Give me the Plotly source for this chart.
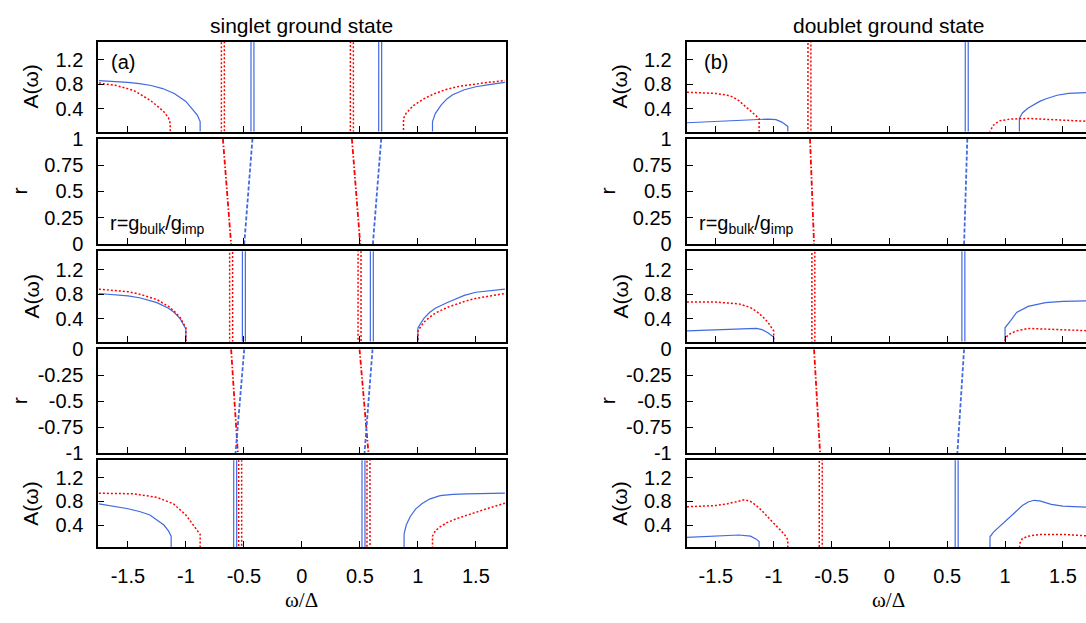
import plotly.graph_objects as go

BLUE = "#4169e1"
RED = "#ff0000"

# ---------------- tick data ----------------
omega_ticks = [-1.5, -1.0, -0.5, 0.0, 0.5, 1.0, 1.5]
omega_tick_text = ["-1.5", "-1", "-0.5", "0", "0.5", "1", "1.5"]
A_ticks = [0.4, 0.8, 1.2]
A_tick_text = ["0.4", "0.8", "1.2"]
r_pos_ticks = [0, 0.25, 0.5, 0.75, 1]
r_pos_text = ["0", "0.25", "0.5", "0.75", "1"]
r_neg_ticks = [-1, -0.75, -0.5, -0.25, 0]
r_neg_text = ["-1", "-0.75", "-0.5", "-0.25", "0"]

peak_height = 5.0      # delta-like bound-state peaks (cut by the axis)
peak_halfwidth = 0.013

# ================= singlet ground state (left column) =================
# r = 1 spectral function
s1_blue_left_w = [-1.75, -1.6, -1.5, -1.4, -1.3, -1.2, -1.1, -1.0, -0.95, -0.9, -0.877]
s1_blue_left_A = [0.86, 0.845, 0.83, 0.81, 0.78, 0.73, 0.65, 0.52, 0.41, 0.29, 0.19]
s1_blue_peaks = [-0.426, 0.675]
s1_blue_right_w = [1.126, 1.15, 1.2, 1.25, 1.3, 1.4, 1.5, 1.6, 1.75]
s1_blue_right_A = [0.19, 0.32, 0.46, 0.56, 0.63, 0.71, 0.76, 0.79, 0.83]
s1_red_left_w = [-1.75, -1.6, -1.45, -1.31, -1.25, -1.19, -1.15, -1.135]
s1_red_left_A = [0.82, 0.78, 0.70, 0.54, 0.45, 0.35, 0.25, 0.16]
s1_red_peaks = [-0.681, 0.431]
s1_red_right_w = [0.876, 0.9, 0.96, 1.05, 1.134, 1.25, 1.365, 1.5, 1.6, 1.75]
s1_red_right_A = [0.24, 0.33, 0.45, 0.56, 0.64, 0.72, 0.77, 0.81, 0.83, 0.86]

# r = 0 spectral function
s2_blue_left_w = [-1.75, -1.5, -1.4, -1.25, -1.15, -1.1, -1.05, -1.0]
s2_blue_left_A = [0.81, 0.77, 0.74, 0.66, 0.57, 0.50, 0.40, 0.23]
s2_blue_peaks = [-0.50, 0.603]
s2_blue_right_w = [1.0, 1.05, 1.1, 1.15, 1.25, 1.4, 1.5, 1.75]
s2_blue_right_A = [0.25, 0.40, 0.50, 0.57, 0.66, 0.78, 0.83, 0.88]
s2_red_left_w = [-1.75, -1.5, -1.4, -1.25, -1.15, -1.1, -1.05, -1.0]
s2_red_left_A = [0.88, 0.84, 0.80, 0.71, 0.60, 0.52, 0.42, 0.25]
s2_red_peaks = [-0.61, 0.497]
s2_red_right_w = [1.0, 1.05, 1.1, 1.15, 1.25, 1.4, 1.5, 1.75]
s2_red_right_A = [0.20, 0.34, 0.42, 0.49, 0.58, 0.68, 0.73, 0.81]

# r = -1 spectral function
s3_blue_left_w = [-1.75, -1.51, -1.4, -1.31, -1.19, -1.15, -1.127]
s3_blue_left_A = [0.76, 0.68, 0.63, 0.57, 0.40, 0.30, 0.21]
s3_blue_peaks = [-0.575, 0.531]
s3_blue_right_w = [0.881, 0.9, 0.933, 0.98, 1.034, 1.1, 1.192, 1.3, 1.422, 1.75]
s3_blue_right_A = [0.25, 0.40, 0.54, 0.67, 0.76, 0.84, 0.90, 0.92, 0.93, 0.94]
s3_red_left_w = [-1.75, -1.452, -1.25, -1.107, -1.0, -0.905, -0.877]
s3_red_left_A = [0.94, 0.93, 0.87, 0.76, 0.57, 0.32, 0.24]
s3_red_peaks = [-0.532, 0.574]
s3_red_right_w = [1.126, 1.15, 1.192, 1.25, 1.336, 1.5, 1.6, 1.75]
s3_red_right_A = [0.21, 0.30, 0.37, 0.44, 0.51, 0.62, 0.68, 0.77]

# r(omega) lines, r in [0, 1]
s_rpos_r = [1.0, 0.0]
s_rpos_red1_w = [-0.681, -0.61]
s_rpos_blue1_w = [-0.426, -0.497]
s_rpos_red2_w = [0.431, 0.503]
s_rpos_blue2_w = [0.684, 0.612]
# r in [-1, 0]
s_rneg_r = [0.0, -1.0]
s_rneg_red1_w = [-0.61, -0.552]
s_rneg_blue1_w = [-0.497, -0.572]
s_rneg_red2_w = [0.497, 0.574]
s_rneg_blue2_w = [0.609, 0.54]

# ================= doublet ground state (right column) =================
d1_blue_left_w = [-1.75, -1.5, -1.25, -1.05, -0.98, -0.93, -0.9, -0.878]
d1_blue_left_A = [0.17, 0.19, 0.21, 0.23, 0.22, 0.18, 0.14, 0.11]
d1_blue_peaks = [0.669]
d1_blue_right_w = [1.124, 1.15, 1.2, 1.25, 1.3, 1.35, 1.45, 1.55, 1.75]
d1_blue_right_A = [0.24, 0.33, 0.41, 0.47, 0.52, 0.56, 0.62, 0.65, 0.67]
d1_red_left_w = [-1.75, -1.5, -1.4, -1.35, -1.3, -1.25, -1.2, -1.15, -1.126]
d1_red_left_A = [0.67, 0.65, 0.62, 0.59, 0.53, 0.45, 0.37, 0.29, 0.24]
d1_red_peaks = [-0.691]
d1_red_right_w = [0.87, 0.9, 0.95, 1.05, 1.2, 1.5, 1.75]
d1_red_right_A = [0.03, 0.13, 0.20, 0.23, 0.24, 0.21, 0.19]

d2_blue_left_w = [-1.75, -1.5, -1.25, -1.15, -1.1, -1.05, -1.0]
d2_blue_left_A = [0.20, 0.22, 0.24, 0.24, 0.22, 0.17, 0.10]
d2_blue_peaks = [0.640]
d2_blue_right_w = [1.0, 1.05, 1.1, 1.2, 1.35, 1.5, 1.75]
d2_blue_right_A = [0.25, 0.37, 0.50, 0.60, 0.66, 0.68, 0.69]
d2_red_left_w = [-1.75, -1.5, -1.3, -1.2, -1.15, -1.1, -1.05, -1.0]
d2_red_left_A = [0.67, 0.67, 0.64, 0.58, 0.52, 0.44, 0.34, 0.20]
d2_red_peaks = [-0.657]
d2_red_right_w = [1.0, 1.02, 1.05, 1.1, 1.2, 1.5, 1.75]
d2_red_right_A = [0.05, 0.12, 0.16, 0.20, 0.24, 0.22, 0.20]

d3_blue_left_w = [-1.75, -1.5, -1.3, -1.2, -1.15, -1.126]
d3_blue_left_A = [0.19, 0.21, 0.23, 0.21, 0.16, 0.12]
d3_blue_peaks = [0.582]
d3_blue_right_w = [0.87, 0.9, 0.95, 1.0, 1.05, 1.1, 1.15, 1.2, 1.25, 1.3, 1.4, 1.5, 1.6, 1.75]
d3_blue_right_A = [0.20, 0.28, 0.37, 0.47, 0.56, 0.65, 0.73, 0.79, 0.82, 0.81, 0.75, 0.72, 0.71, 0.70]
d3_red_left_w = [-1.75, -1.6, -1.5, -1.4, -1.3, -1.25, -1.2, -1.15, -1.1, -1.05, -1.0, -0.95, -0.9, -0.878]
d3_red_left_A = [0.71, 0.72, 0.73, 0.76, 0.81, 0.83, 0.80, 0.73, 0.64, 0.53, 0.43, 0.33, 0.22, 0.15]
d3_red_peaks = [-0.593]
d3_red_right_w = [1.126, 1.15, 1.2, 1.3, 1.5, 1.75]
d3_red_right_A = [0.08, 0.17, 0.21, 0.24, 0.24, 0.21]

d_rpos_r = [1.0, 0.0]
d_rpos_red_w = [-0.686, -0.651]
d_rpos_blue_w = [0.674, 0.646]
d_rneg_r = [0.0, -1.0]
d_rneg_red_w = [-0.651, -0.599]
d_rneg_blue_w = [0.646, 0.588]


def spectrum(left_w, left_A, peaks, right_w, right_A):
    xs = list(left_w) + [left_w[-1]]
    ys = list(left_A) + [0.0]
    for p in peaks:
        xs += [p - peak_halfwidth, p - peak_halfwidth * 0.9,
               p + peak_halfwidth * 0.9, p + peak_halfwidth]
        ys += [0.0, peak_height, peak_height, 0.0]
    xs += [right_w[0]] + list(right_w)
    ys += [0.0] + list(right_A)
    return xs, ys


W, H = 1086, 623
col_px = [(98.3, 505.7), (686.7, 1086.0)]
row_px = [(31.7, 125.0), (132.3, 241.7), (249.0, 342.7), (350.7, 458.3), (465.7, 555.7)]
x_ranges = [[-1.755, 1.757], [-1.752, 1.700]]

fig = go.Figure()
FONT = "Liberation Sans, Arial, sans-serif"
SERIF = "Liberation Serif, Times New Roman, serif"
TICK_SIZE = 20
TITLE_SIZE = 21
layout = dict(
    width=W, height=H, margin=dict(l=0, r=0, t=0, b=0),
    paper_bgcolor="white", plot_bgcolor="white", showlegend=False,
    font=dict(family=FONT, size=TICK_SIZE, color="black"),
)


def ax_id(c, i):
    return c * 5 + i + 1


for c in range(2):
    for i in range(5):
        k = ax_id(c, i)
        xname = "xaxis" if k == 1 else f"xaxis{k}"
        yname = "yaxis" if k == 1 else f"yaxis{k}"
        x0, x1 = col_px[c]
        t, b = row_px[i]
        layout[xname] = dict(
            domain=[x0 / W, min(x1 / W, 1.0)], range=x_ranges[c],
            anchor=f"y{k}" if k > 1 else "y",
            showline=True, linecolor="black", linewidth=2, mirror=True,
            ticks="inside", ticklen=6, tickwidth=1.3, tickcolor="black",
            tickvals=omega_ticks, ticktext=omega_tick_text,
            showticklabels=(i == 4), ticklabelstandoff=10,
            showgrid=False, zeroline=False, fixedrange=True,
            tickfont=dict(size=TICK_SIZE, family=FONT),
        )
        if i in (0, 2, 4):
            yr, tv, tt = [0.025, 1.5], A_ticks, A_tick_text
        elif i == 1:
            yr, tv, tt = [0, 1], r_pos_ticks, r_pos_text
        else:
            yr, tv, tt = [-1, 0], r_neg_ticks, r_neg_text
        layout[yname] = dict(
            domain=[1 - b / H, 1 - t / H], range=yr,
            anchor=f"x{k}" if k > 1 else "x",
            showline=True, linecolor="black", linewidth=2,
            mirror=True if c == 0 else False,
            ticks="inside", ticklen=6, tickwidth=1.3, tickcolor="black",
            tickvals=tv, ticktext=tt, ticklabelstandoff=9,
            showgrid=False, zeroline=False, fixedrange=True,
            tickfont=dict(size=TICK_SIZE, family=FONT),
        )


def add(k, x, y, color, dash, width):
    fig.add_trace(go.Scatter(
        x=x, y=y, mode="lines",
        line=dict(color=color, dash=dash, width=width),
        xaxis="x" if k == 1 else f"x{k}", yaxis="y" if k == 1 else f"y{k}",
        hoverinfo="skip",
    ))


DOT = "2px,2px"
DASH = "4px,2px"
DASHDOT = "5px,2px,1.5px,2px"

spectra = [
    (ax_id(0, 0), (s1_blue_left_w, s1_blue_left_A, s1_blue_peaks, s1_blue_right_w, s1_blue_right_A),
     (s1_red_left_w, s1_red_left_A, s1_red_peaks, s1_red_right_w, s1_red_right_A)),
    (ax_id(0, 2), (s2_blue_left_w, s2_blue_left_A, s2_blue_peaks, s2_blue_right_w, s2_blue_right_A),
     (s2_red_left_w, s2_red_left_A, s2_red_peaks, s2_red_right_w, s2_red_right_A)),
    (ax_id(0, 4), (s3_blue_left_w, s3_blue_left_A, s3_blue_peaks, s3_blue_right_w, s3_blue_right_A),
     (s3_red_left_w, s3_red_left_A, s3_red_peaks, s3_red_right_w, s3_red_right_A)),
    (ax_id(1, 0), (d1_blue_left_w, d1_blue_left_A, d1_blue_peaks, d1_blue_right_w, d1_blue_right_A),
     (d1_red_left_w, d1_red_left_A, d1_red_peaks, d1_red_right_w, d1_red_right_A)),
    (ax_id(1, 2), (d2_blue_left_w, d2_blue_left_A, d2_blue_peaks, d2_blue_right_w, d2_blue_right_A),
     (d2_red_left_w, d2_red_left_A, d2_red_peaks, d2_red_right_w, d2_red_right_A)),
    (ax_id(1, 4), (d3_blue_left_w, d3_blue_left_A, d3_blue_peaks, d3_blue_right_w, d3_blue_right_A),
     (d3_red_left_w, d3_red_left_A, d3_red_peaks, d3_red_right_w, d3_red_right_A)),
]
for k, blue, red in spectra:
    bx, by = spectrum(*blue)
    rx, ry = spectrum(*red)
    add(k, bx, by, BLUE, "solid", 1.2)
    add(k, rx, ry, RED, DOT, 1.5)

# r panels
for w in (s_rpos_red1_w, s_rpos_red2_w):
    add(ax_id(0, 1), w, s_rpos_r, RED, DASHDOT, 1.8)
for w in (s_rpos_blue1_w, s_rpos_blue2_w):
    add(ax_id(0, 1), w, s_rpos_r, BLUE, DASH, 1.8)
for w in (s_rneg_red1_w, s_rneg_red2_w):
    add(ax_id(0, 3), w, s_rneg_r, RED, DASHDOT, 1.8)
for w in (s_rneg_blue1_w, s_rneg_blue2_w):
    add(ax_id(0, 3), w, s_rneg_r, BLUE, DASH, 1.8)
add(ax_id(1, 1), d_rpos_red_w, d_rpos_r, RED, DASHDOT, 1.8)
add(ax_id(1, 1), d_rpos_blue_w, d_rpos_r, BLUE, DASH, 1.8)
add(ax_id(1, 3), d_rneg_red_w, d_rneg_r, RED, DASHDOT, 1.8)
add(ax_id(1, 3), d_rneg_blue_w, d_rneg_r, BLUE, DASH, 1.8)

# ---------------- annotations ----------------
ann = []


def note(x, y, text, xanchor="center", yanchor="middle", angle=0, size=TITLE_SIZE, family=FONT):
    ann.append(dict(xref="paper", yref="paper", x=x / W, y=1 - y / H, text=text,
                    showarrow=False, xanchor=xanchor, yanchor=yanchor, textangle=angle,
                    font=dict(size=size, family=family, color="black")))


note(301.7, 15, "singlet ground state")
note(888.5, 15, "doublet ground state")
for c, (xa, xr) in enumerate([(31, 19), (620, 607)]):
    for i in (0, 2, 4):
        t, b = row_px[i]
        note(xa, (t + b) / 2, "A(ω)", angle=-90)
    for i in (1, 3):
        t, b = row_px[i]
        note(xr, (t + b) / 2, "r", angle=-90)
note(301.7, 611, "ω/Δ", family=SERIF)
note(888.5, 611, "ω/Δ", family=SERIF)
note(109, 53, "(a)", xanchor="left", size=20)
note(702, 53, "(b)", xanchor="left", size=20)
note(108, 221, "r=g<sub>bulk</sub>/g<sub>imp</sub>", xanchor="left", size=20)
note(697, 221, "r=g<sub>bulk</sub>/g<sub>imp</sub>", xanchor="left", size=20)
layout["annotations"] = ann

fig.update_layout(**layout)
fig.write_html("out.html")
